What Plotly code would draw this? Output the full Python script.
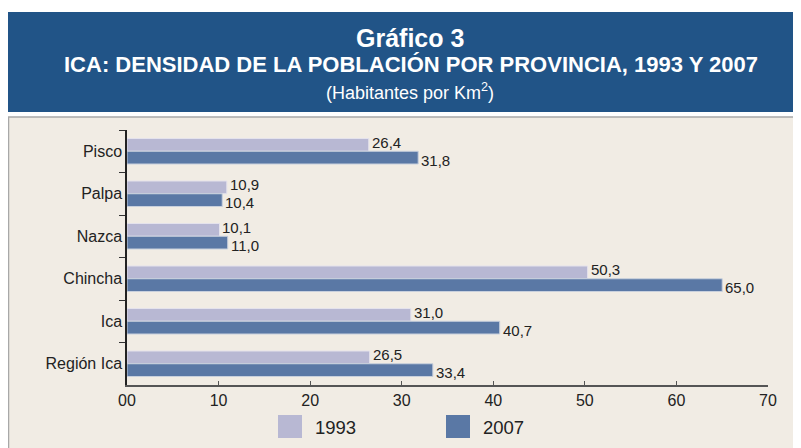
import plotly.graph_objects as go

# data
provincias = ["Pisco", "Palpa", "Nazca", "Chincha", "Ica", "Región Ica"]
dens_1993 = [26.4, 10.9, 10.1, 50.3, 31.0, 26.5]
dens_2007 = [31.8, 10.4, 11.0, 65.0, 40.7, 33.4]
tick_vals = [0, 10, 20, 30, 40, 50, 60, 70]
tick_text = ["00", "10", "20", "30", "40", "50", "60", "70"]

FONT = "Liberation Sans, Arial, sans-serif"
C_1993 = "#b8b8d3"
C_2007 = "#5a78a5"
BG = "#f1ece4"
BLUE = "#215487"

# the page body adds an 8px margin, so the figure is 8px smaller
W, H = 793, 440
ML, MR, MT, MB = 119, 33, 122, 63
PW, PH = W - ML - MR, H - MT - MB


def px(x):
    # reference pixel x -> paper
    return (x - 8 - ML) / PW


def py(y):
    # reference pixel y -> paper
    return (H - MB - (y - 8)) / PH


fig = go.Figure()
fig.add_trace(go.Bar(
    y=provincias, x=dens_1993, name="1993", orientation="h",
    marker=dict(color=C_1993, line=dict(color="#e4e2ec", width=1)),
    showlegend=False,
))
fig.add_trace(go.Bar(
    y=provincias, x=dens_2007, name="2007", orientation="h",
    marker=dict(color=C_2007, line=dict(color="#c8d0dd", width=1)),
    showlegend=False,
))

annotations = []
# value labels, 1993 nudged up and 2007 nudged down like the original
for vals, shift in [(dens_1993, 9), (dens_2007, -9)]:
    for cat, v in zip(provincias, vals):
        annotations.append(dict(
            x=v, y=cat, xref="x", yref="y", text=f"{v:.1f}".replace(".", ","),
            showarrow=False, xanchor="left", yanchor="middle",
            xshift=1, yshift=shift,
            font=dict(family=FONT, size=15, color="#222222")))

# header band and beige panel
shapes = [
    dict(type="rect", xref="paper", yref="paper", layer="below",
         x0=px(8), x1=px(805), y0=py(112), y1=py(12),
         fillcolor=BLUE, line=dict(width=0)),
    dict(type="rect", xref="paper", yref="paper", layer="below",
         x0=px(8.5), x1=px(810), y0=py(460), y1=py(117),
         fillcolor=BG, line=dict(color="#a8a8a8", width=1.5)),
]

# legend drawn as squares + labels
leg = [("1993", C_1993, 278), ("2007", C_2007, 446)]
for name, col, lx in leg:
    shapes.append(dict(type="rect", xref="paper", yref="paper",
                       x0=px(lx), x1=px(lx + 24), y0=py(438), y1=py(415),
                       fillcolor=col, line=dict(width=0)))
    annotations.append(dict(xref="paper", yref="paper", x=px(lx + 35),
                            y=py(427), text=name, showarrow=False,
                            xanchor="left", yanchor="middle",
                            font=dict(family=FONT, size=18.5, color="#222222")))

annotations += [
    dict(xref="paper", yref="paper", x=px(410), y=py(38),
         text="<b>Gráfico 3</b>", showarrow=False, xanchor="center", yanchor="middle",
         font=dict(family=FONT, size=25, color="white")),
    dict(xref="paper", yref="paper", x=px(411), y=py(64),
         text="<b>ICA: DENSIDAD DE LA POBLACIÓN POR PROVINCIA, 1993 Y 2007</b>",
         showarrow=False, xanchor="center", yanchor="middle",
         font=dict(family=FONT, size=22, color="white")),
    dict(xref="paper", yref="paper", x=px(410), y=py(91),
         text="(Habitantes por Km<sup>2</sup>)", showarrow=False,
         xanchor="center", yanchor="middle",
         font=dict(family=FONT, size=18, color="white")),
]

fig.update_layout(
    width=W, height=H,
    margin=dict(l=ML, r=MR, t=MT, b=MB),
    paper_bgcolor="white", plot_bgcolor=BG,
    barmode="group", bargap=0.4, bargroupgap=0.0,
    font=dict(family=FONT, size=15, color="#222222"),
    shapes=shapes, annotations=annotations,
    xaxis=dict(range=[0, 70], tickvals=tick_vals, ticktext=tick_text,
               showgrid=False, zeroline=False, showline=True,
               linecolor="#555555", linewidth=1.5,
               ticks="inside", ticklen=4, tickcolor="#555555",
               tickfont=dict(family=FONT, size=16)),
    yaxis=dict(autorange="reversed", showgrid=False, showline=True,
               linecolor="#222222", linewidth=1.5,
               ticks="outside", tickson="boundaries", ticklen=6,
               tickcolor="#333333", tickfont=dict(family=FONT, size=16)),
)

fig.write_html("out.html")
